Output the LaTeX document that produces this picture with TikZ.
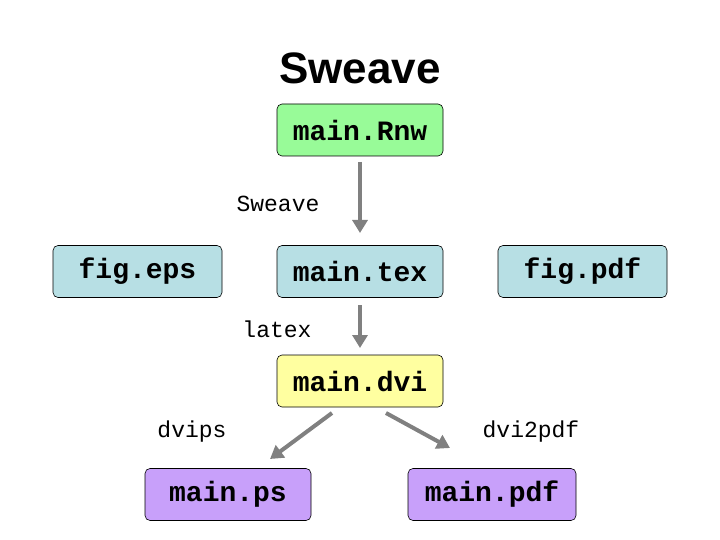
\documentclass[tikz,border=0pt]{standalone}
\usepackage{fontspec}
\setmainfont{Liberation Sans}
\newfontfamily\cour{Liberation Mono}
\usetikzlibrary{arrows.meta}
\definecolor{cgreen}{RGB}{152,251,152}
\definecolor{cblue}{RGB}{183,223,228}
\definecolor{cyellow}{RGB}{255,255,160}
\definecolor{cpurple}{RGB}{200,160,250}
\definecolor{cgray}{RGB}{128,128,128}
\begin{document}
\begin{tikzpicture}[x=1pt,y=-1pt,
 box/.style={draw=black,line width=0.6pt,rounded corners=5pt,minimum width=166pt,minimum height=52pt,inner sep=0pt,font=\cour\bfseries\fontsize{28}{30}\selectfont},
 lab/.style={font=\cour\fontsize{23}{26}\selectfont,inner sep=0pt},
 arr/.style={draw=cgray,line width=4pt,-{Triangle[length=13pt,width=15pt]}}]
\useasboundingbox (0,0) rectangle (720,540);
\node[font=\bfseries\fontsize{44}{48}\selectfont] (title) at (360,68) {Sweave};
\node[box,fill=cgreen] (rnw) at (360,130) {main.Rnw};
\node[box,fill=cblue,minimum width=169pt] (eps) at (137.5,271.5) {fig.eps};
\node[box,fill=cblue] (tex) at (360,271.5) {main.tex};
\node[box,fill=cblue,minimum width=169pt] (fpdf) at (582.5,271.5) {fig.pdf};
\node[box,fill=cyellow] (dvi) at (360,381) {main.dvi};
\node[box,fill=cpurple] (ps) at (228,494.5) {main.ps};
\node[box,fill=cpurple,minimum width=168pt] (pdf) at (492,494.5) {main.pdf};
\node[lab] (l1) at (278,204) {Sweave};
\node[lab] (l2) at (277,329) {latex};
\node[lab] (l3) at (192,432) {dvips};
\node[lab] (l4) at (531,432) {dvi2pdf};
\coordinate (a1) at (360,162); \coordinate (b1) at (360,233);
\coordinate (a2) at (360,305); \coordinate (b2) at (360,348);
\coordinate (a3) at (332,413); \coordinate (b3) at (270,459);
\coordinate (a4) at (386,413); \coordinate (b4) at (450,448);
\draw[arr] (a1) -- (b1);
\draw[arr] (a2) -- (b2);
\draw[arr] (a3) -- (b3);
\draw[arr] (a4) -- (b4);
\end{tikzpicture}
\end{document}
